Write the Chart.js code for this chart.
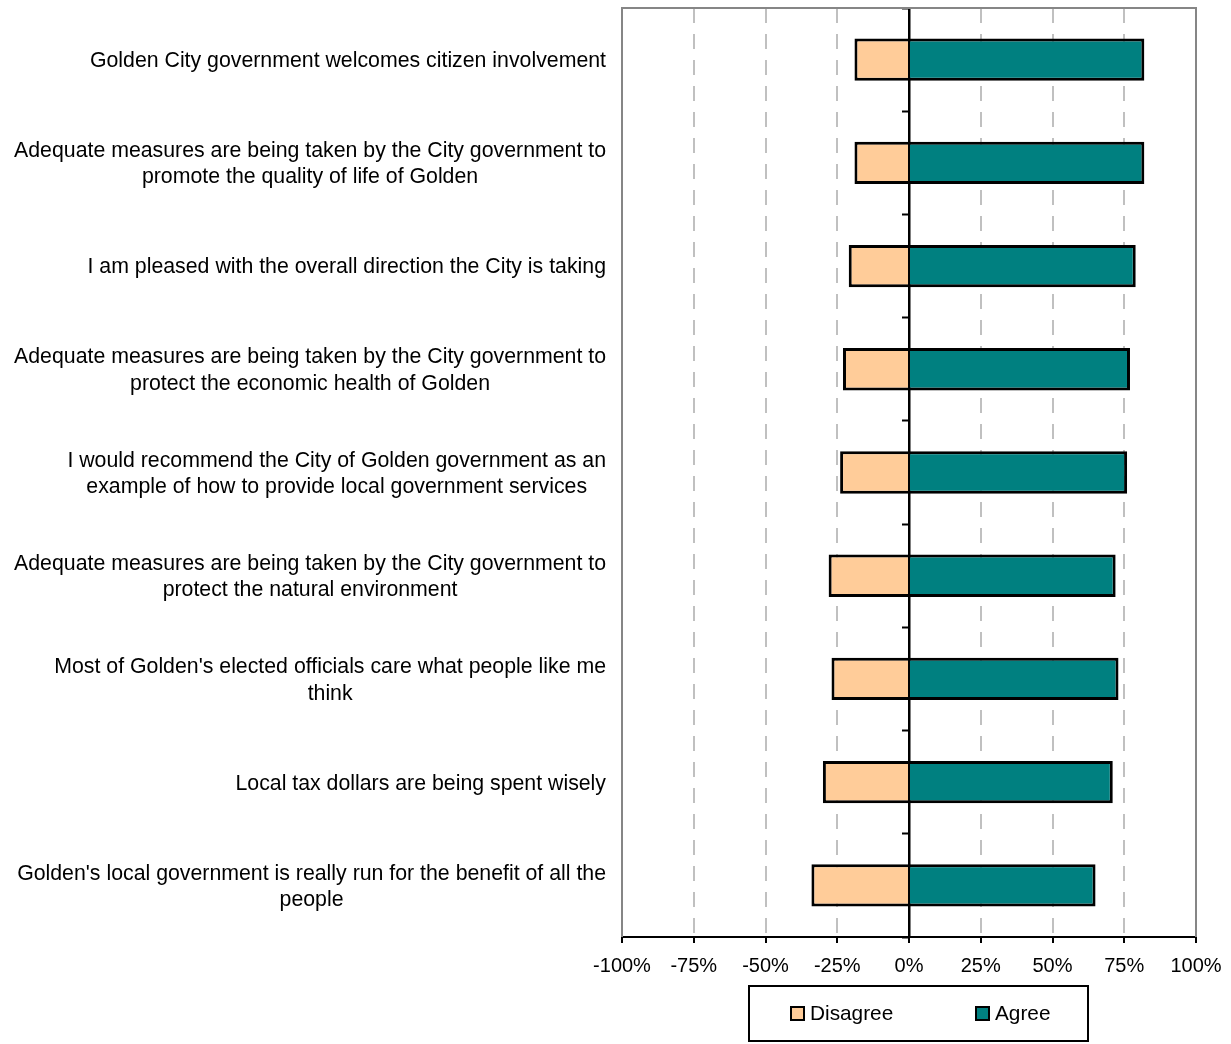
<!DOCTYPE html>
<html>
<head>
<meta charset="utf-8">
<script src="https://cdn.jsdelivr.net/npm/chart.js@4/dist/chart.umd.min.js"></script>
<style>
  html, body { margin: 0; padding: 0; background: #fff; }
  #wrap { position: relative; width: 1231px; height: 1044px; }
  #legend {
    position: absolute; left: 748px; top: 985px; width: 341px; height: 57px;
    border: 2px solid #000; box-sizing: border-box;
    font-family: "Liberation Sans", Arial, sans-serif; font-size: 20.8px; color: #000;
  }
  #legend .item { position: absolute; top: 14px; display: flex; align-items: center; }
  #legend .box { width: 11px; height: 11px; border: 2px solid #000; margin-right: 5px; }
</style>
</head>
<body>
<div id="wrap">
  <canvas id="surveyChart" width="1231" height="1044"></canvas>
  <div id="legend"></div>
</div>
<script>
// statements, top to bottom
var categories = [
  ['Golden City government welcomes citizen involvement'],
  ['Adequate measures are being taken by the City government to', 'promote the quality of life of Golden'],
  ['I am pleased with the overall direction the City is taking'],
  ['Adequate measures are being taken by the City government to', 'protect the economic health of Golden'],
  ['I would recommend the City of Golden government as an', 'example of how to provide local government services'],
  ['Adequate measures are being taken by the City government to', 'protect the natural environment'],
  ["Most of Golden's elected officials care what people like me", 'think'],
  ['Local tax dollars are being spent wisely'],
  ["Golden's local government is really run for the benefit of all the", 'people']
];
var disagree = [-19, -19, -21, -23, -24, -28, -27, -30, -34];
var agree = [82, 82, 79, 77, 76, 72, 73, 71, 65];
var xTicks = [-100, -75, -50, -25, 0, 25, 50, 75, 100];

var FONT = '"Liberation Sans", Arial, sans-serif';

// gray frame on top/left/right of plot area
var framePlugin = {
  id: 'frame',
  beforeDatasetsDraw: function (chart) {
    var a = chart.chartArea, c = chart.ctx;
    c.save();
    c.strokeStyle = '#868686';
    c.lineWidth = 2;
    c.beginPath();
    c.moveTo(a.left, a.bottom);
    c.lineTo(a.left, a.top);
    c.lineTo(a.right, a.top);
    c.lineTo(a.right, a.bottom);
    c.stroke();
    c.restore();
  }
};

// category labels: block right-aligned, lines centred inside the block
var labelPlugin = {
  id: 'catLabels',
  afterDraw: function (chart) {
    var c = chart.ctx, ys = chart.scales.y;
    var right = chart.chartArea.left - 16;
    var lh = 26.5;
    c.save();
    c.font = '21.3px ' + FONT;
    c.fillStyle = '#000';
    c.textAlign = 'center';
    c.textBaseline = 'middle';
    chart.data.labels.forEach(function (lines, i) {
      var w = 0;
      lines.forEach(function (t) { w = Math.max(w, c.measureText(t).width); });
      var cx = right - w / 2;
      var cy = ys.getPixelForValue(i) + 1.5;
      var y0 = cy - (lines.length - 1) * lh / 2;
      lines.forEach(function (t, k) { c.fillText(t, cx, y0 + k * lh); });
    });
    c.restore();
  }
};

var ctx = document.getElementById('surveyChart');
var chart = new Chart(ctx, {
  type: 'bar',
  data: {
    labels: categories,
    datasets: [
      { label: 'Disagree', data: disagree, backgroundColor: '#FFCC99', borderColor: '#000', borderWidth: 3, borderSkipped: 'start' },
      { label: 'Agree', data: agree, backgroundColor: '#008080', borderColor: '#000', borderWidth: 3, borderSkipped: 'start' }
    ]
  },
  options: {
    indexAxis: 'y',
    responsive: false,
    animation: false,
    maintainAspectRatio: false,
    barPercentage: 0.41,
    categoryPercentage: 1,
    layout: { padding: { top: 8, right: 35, left: 0, bottom: 0 } },
    plugins: {
      legend: { display: false },
      tooltip: { enabled: false }
    },
    scales: {
      x: {
        stacked: true,
        min: -100, max: 100,
        afterBuildTicks: function (scale) {
          scale.ticks = xTicks.map(function (v) { return { value: v }; });
        },
        afterFit: function (scale) {
          scale.height = 107;
          scale.paddingRight = 35;
          scale.paddingLeft = 0;
        },
        ticks: {
          color: '#000',
          font: { family: FONT, size: 20 },
          padding: 11,
          maxRotation: 0,
          callback: function (v) { return v + '%'; }
        },
        grid: {
          color: function (c) {
            var v = c.tick && c.tick.value;
            return (v === 0 || v === 100 || v === -100) ? 'rgba(0,0,0,0)' : '#c0c0c0';
          },
          lineWidth: 2,
          tickColor: '#000',
          tickLength: 6,
          tickWidth: 2,
          tickBorderDash: []
        },
        border: { display: true, color: '#000', width: 2, dash: [15, 11] }
      },
      y: {
        stacked: true,
        afterFit: function (scale) { scale.width = 622; },
        ticks: { display: false },
        grid: { display: false },
        border: { display: false }
      },
      zero: {
        type: 'category',
        axis: 'y',
        position: { x: 0 },
        labels: categories,
        offset: true,
        z: 1,
        ticks: { display: false },
        grid: { display: true, drawOnChartArea: false, offset: true, tickLength: 6, tickColor: '#000', tickWidth: 2, color: '#000' },
        border: { display: true, color: '#000', width: 2.5 }
      }
    }
  },
  plugins: [framePlugin, labelPlugin]
});

// legend box built from the datasets
var legend = document.getElementById('legend');
var lx = [40, 225];
chart.data.datasets.forEach(function (ds, i) {
  var item = document.createElement('div');
  item.className = 'item';
  item.style.left = lx[i] + 'px';
  var box = document.createElement('span');
  box.className = 'box';
  box.style.background = ds.backgroundColor;
  var txt = document.createElement('span');
  txt.textContent = ds.label;
  item.appendChild(box);
  item.appendChild(txt);
  legend.appendChild(item);
});
</script>
</body>
</html>
